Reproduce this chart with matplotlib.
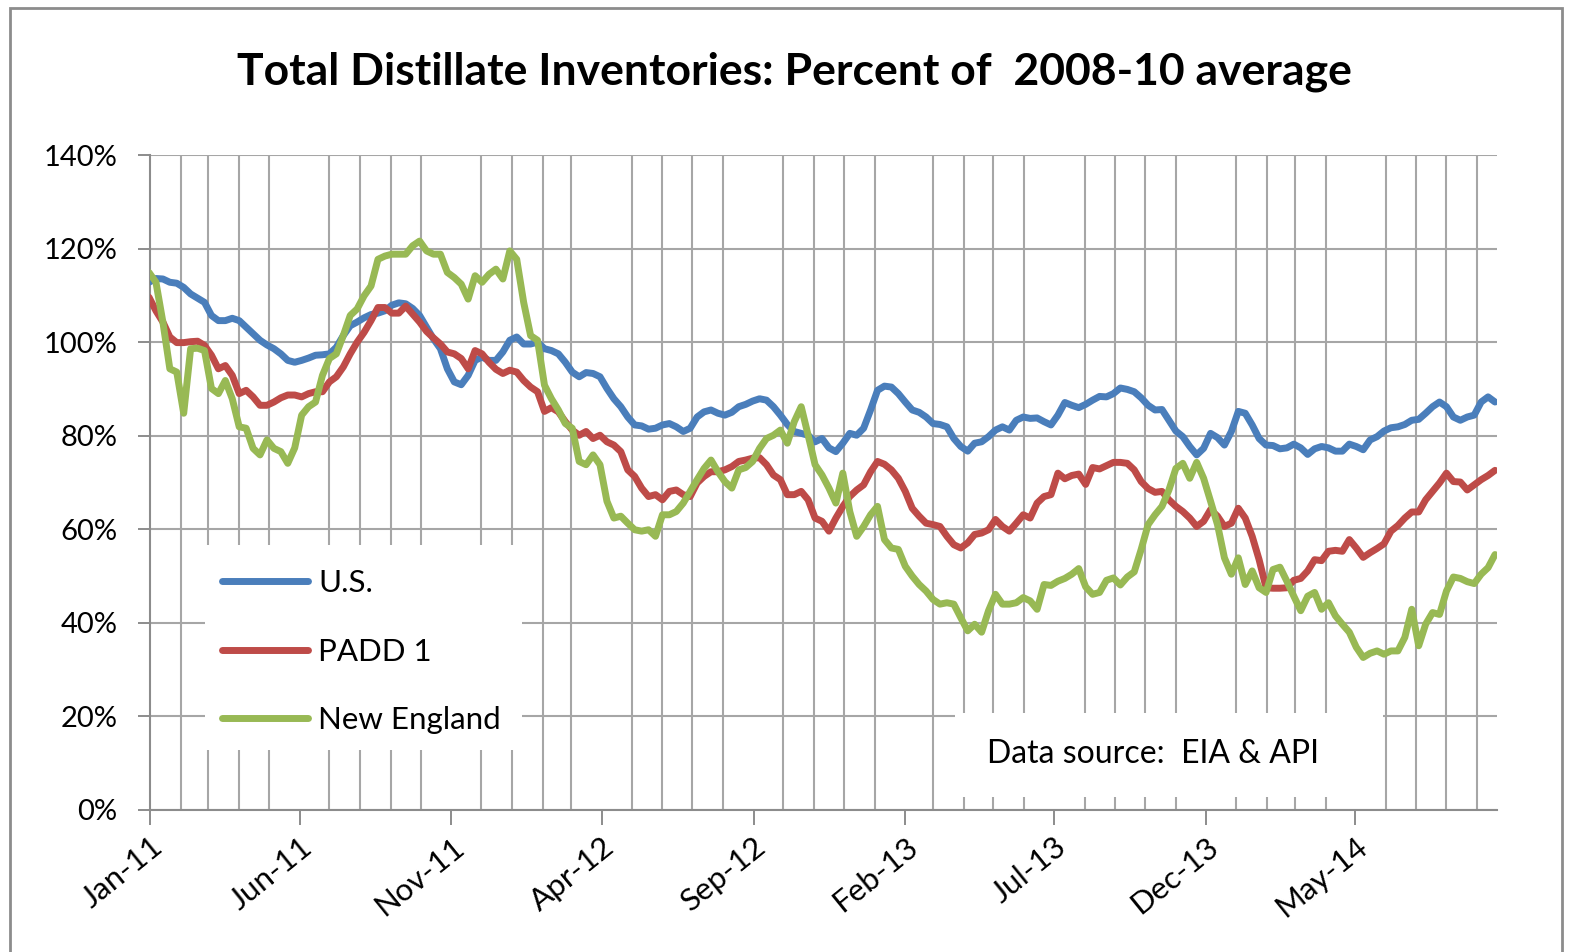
import pandas as pd
import matplotlib
matplotlib.use("Agg")
import matplotlib.pyplot as plt
import matplotlib.dates as mdates
from matplotlib.patches import Rectangle

plt.rcParams["font.family"] = ["Lato", "DejaVu Sans"]

# weekly readings (percent of 2008-10 average), first week ending 31 Dec 2010
week_start = "2010-12-31"

us = [
    112.8, 113.6, 113.5, 112.8, 112.6, 111.7, 110.3, 109.4, 108.5, 105.7, 104.6, 104.6, 105.1, 104.6, 103.2, 101.8,
    100.4, 99.4, 98.6, 97.5, 96.1, 95.7, 96.1, 96.6, 97.2, 97.3, 97.5, 98.9, 101.4, 103.5, 104.3, 105.2, 105.9,
    106.2, 106.7, 107.9, 108.4, 108.2, 107.2, 105.7, 103.2, 100.7, 98.6, 94.3, 91.5, 90.9, 92.9, 96.1, 96.8,
    96.1, 96.1, 97.9, 100.4, 101.1, 99.6, 99.6, 100.0, 98.6, 98.2, 97.5, 95.7, 93.6, 92.6, 93.5, 93.3,
    92.6, 90.1, 87.9, 86.2, 84.0, 82.3, 82.1, 81.4, 81.6, 82.3, 82.6, 81.9, 80.9, 81.6, 84.0, 85.1,
    85.5, 84.8, 84.4, 85.0, 86.2, 86.7, 87.4, 87.9, 87.6, 86.2, 84.4, 82.4, 80.9, 80.5, 80.1, 78.7,
    79.4, 77.4, 76.6, 78.4, 80.5, 80.1, 81.6, 85.5, 89.7, 90.6, 90.4, 89.0, 87.2, 85.5, 85.0, 84.0, 82.6,
    82.4, 81.9, 79.4, 77.7, 76.7, 78.4, 78.7, 79.8, 81.2, 81.9, 81.2, 83.3, 84.0, 83.7, 83.8, 83.0,
    82.3, 84.4, 87.1, 86.5, 86.0, 86.7, 87.6, 88.4, 88.3, 89.0, 90.2, 89.9, 89.4, 88.1, 86.5, 85.5,
    85.6, 83.3, 81.0, 79.8, 77.7, 75.9, 77.3, 80.5, 79.6, 78.0, 80.9, 85.2, 84.8, 82.3, 79.4, 78.0,
    77.9, 77.2, 77.4, 78.2, 77.4, 76.0, 77.2, 77.7, 77.4, 76.7, 76.7, 78.2, 77.7, 77.0, 79.1, 79.8, 81.0,
    81.7, 81.9, 82.4, 83.3, 83.5, 84.8, 86.2, 87.2, 86.2, 84.0, 83.3, 84.0, 84.4, 87.2, 88.3, 87.2,
]

padd1 = [
    109.6, 106.7, 104.3, 101.1, 99.9, 99.9, 100.1, 100.2, 99.3, 97.2, 94.3, 95.0, 92.9, 89.0, 89.7, 88.3,
    86.5, 86.5, 87.2, 88.1, 88.7, 88.7, 88.3, 89.0, 89.4, 89.4, 91.5, 92.6, 94.7, 97.5, 100.0, 102.1, 104.6,
    107.4, 107.4, 106.2, 106.2, 107.7, 106.0, 104.3, 102.3, 100.9, 99.6, 97.9, 97.5, 96.5, 94.3, 98.2, 97.5,
    95.7, 94.2, 93.3, 94.0, 93.6, 91.8, 90.4, 89.4, 85.2, 86.0, 85.1, 83.0, 81.2, 80.1, 80.9, 79.4,
    80.1, 78.7, 78.0, 76.6, 72.7, 71.3, 68.8, 67.0, 67.4, 66.3, 68.1, 68.4, 67.4, 67.0, 69.9, 71.3,
    72.3, 72.3, 72.7, 73.4, 74.5, 74.8, 75.2, 75.3, 73.8, 71.6, 70.6, 67.4, 67.4, 68.1, 66.3, 62.4,
    61.7, 59.6, 62.4, 64.9, 67.0, 68.4, 69.5, 72.3, 74.5, 73.9, 72.7, 70.9, 68.1, 64.5, 62.8, 61.3, 61.0,
    60.6, 58.5, 56.7, 56.0, 57.1, 58.9, 59.2, 59.9, 62.1, 60.6, 59.6, 61.3, 63.1, 62.4, 65.6, 67.0,
    67.4, 72.0, 70.8, 71.5, 71.8, 69.6, 73.2, 72.9, 73.6, 74.3, 74.3, 74.1, 72.7, 70.2, 68.7, 67.9,
    68.1, 66.3, 64.9, 63.8, 62.4, 60.6, 61.7, 64.2, 62.8, 60.6, 61.3, 64.5, 62.4, 58.5, 53.5, 47.5,
    47.4, 47.4, 47.5, 49.1, 49.5, 51.1, 53.5, 53.3, 55.3, 55.5, 55.3, 57.8, 56.0, 54.0, 55.0, 55.9, 56.9,
    59.6, 60.8, 62.4, 63.7, 63.7, 66.3, 68.1, 69.9, 72.0, 70.2, 70.1, 68.4, 69.5, 70.6, 71.5, 72.6,
]

new_england = [
    114.9, 112.8, 104.3, 94.3, 93.6, 84.8, 98.6, 98.7, 98.2, 90.1, 89.0, 91.8, 87.9, 81.9, 81.6, 77.3,
    75.9, 79.1, 77.3, 76.6, 74.1, 77.4, 84.4, 86.2, 87.2, 92.9, 96.5, 97.5, 101.4, 105.7, 107.1, 109.9, 112.0,
    117.7, 118.4, 118.8, 118.8, 118.8, 120.6, 121.6, 119.5, 118.8, 118.8, 114.9, 113.8, 112.4, 109.2, 114.2, 112.8,
    114.5, 115.6, 113.5, 119.5, 117.7, 108.5, 101.4, 100.4, 90.8, 87.9, 85.5, 82.6, 81.6, 74.5, 73.8, 75.9,
    73.8, 66.0, 62.4, 62.8, 61.3, 59.9, 59.6, 59.9, 58.5, 63.1, 63.1, 63.8, 65.6, 68.1, 70.6, 73.0,
    74.8, 72.3, 70.2, 68.8, 72.7, 73.2, 74.5, 77.3, 79.4, 80.1, 81.2, 78.4, 83.0, 86.2, 80.1, 73.8,
    71.6, 68.8, 65.6, 72.0, 63.8, 58.5, 60.6, 63.1, 64.9, 57.8, 56.0, 55.7, 52.1, 50.0, 48.2, 46.8, 45.0,
    44.0, 44.3, 44.0, 41.1, 38.3, 39.7, 38.0, 42.6, 46.1, 44.0, 44.0, 44.3, 45.4, 44.7, 42.9, 48.2,
    48.0, 48.9, 49.5, 50.4, 51.6, 47.7, 46.1, 46.5, 49.1, 49.6, 48.1, 49.8, 50.9, 55.7, 61.0, 63.1,
    64.9, 68.4, 73.0, 74.1, 70.9, 74.3, 70.9, 66.0, 61.0, 53.9, 50.4, 53.9, 48.2, 51.1, 47.5, 46.5,
    51.4, 51.9, 48.9, 45.7, 42.6, 45.7, 46.5, 42.9, 44.3, 41.5, 39.7, 38.0, 34.8, 32.6, 33.5, 34.0, 33.3,
    34.0, 34.0, 36.9, 42.9, 35.1, 39.7, 42.2, 41.8, 46.8, 49.8, 49.5, 48.8, 48.4, 50.4, 51.8, 54.6,
]

series_labels = ["U.S.", "PADD 1", "New England"]
series_colors = ["#4A7EBB", "#BE4B48", "#98B954"]
y_ticks = [0, 20, 40, 60, 80, 100, 120, 140]
title = "Total Distillate Inventories: Percent of  2008-10 average"
source_note = "Data source:  EIA & API"

dates = pd.date_range(week_start, periods=len(us), freq="7D")
label_months = pd.date_range("2011-01-01", "2014-05-01", freq="5MS")
grid_months = pd.date_range("2011-01-01", "2014-09-01", freq="MS")

grid_color = "#A6A6A6"
axis_color = "#8C8C8C"

fig = plt.figure(figsize=(15.77, 9.52), dpi=100)
ax = fig.add_axes([150 / 1577, 1 - 810 / 952, 1347 / 1577, 655 / 952])
ax.set_axisbelow(True)

lines = []
for vals, label, color in zip([us, padd1, new_england], series_labels, series_colors):
    ln, = ax.plot(dates, vals, color=color, lw=5.0, label=label, zorder=3,
                  solid_joinstyle="round", solid_capstyle="round")
    lines.append(ln)

ax.set_xlim(pd.Timestamp("2011-01-01"), pd.Timestamp("2014-09-21"))
ax.set_ylim(0, 140)

ax.set_yticks(y_ticks)
ax.set_yticklabels([f"{v}%" for v in y_ticks])
ax.set_xticks(label_months)
ax.set_xticks(grid_months, minor=True)
ax.xaxis.set_major_formatter(mdates.DateFormatter("%b-%y"))

ax.grid(which="minor", axis="x", color=grid_color, lw=1.5)
ax.grid(which="major", axis="y", color=grid_color, lw=1.5)

ax.tick_params(axis="x", which="minor", length=0)
ax.tick_params(axis="x", which="major", direction="out", length=11, width=1.4,
               color=axis_color, labelsize=22.5, pad=5)
ax.tick_params(axis="y", direction="out", length=8.5, width=1.4,
               color=axis_color, labelsize=21, pad=15)
plt.setp(ax.get_xticklabels(), rotation=39, ha="right", rotation_mode="anchor")

for side in ["top", "right"]:
    ax.spines[side].set_visible(False)
for side in ["left", "bottom"]:
    ax.spines[side].set_color(axis_color)
    ax.spines[side].set_linewidth(1.5)

# white boxes that hide the grid behind the legend and the source note
ax.add_patch(Rectangle((55 / 1347, 60 / 655), 317 / 1347, 205 / 655, transform=ax.transAxes,
                       facecolor="white", edgecolor="none", zorder=1))
ax.add_patch(Rectangle((805 / 1347, 13 / 655), 428 / 1347, 84 / 655, transform=ax.transAxes,
                       facecolor="white", edgecolor="none", zorder=1))

ax.legend(handles=lines, loc="upper left", bbox_to_anchor=(222 / 1577, 1 - 569 / 952),
          bbox_transform=fig.transFigure, frameon=False, fontsize=22.5, handlelength=2.75,
          handletextpad=0.32, labelspacing=1.30, borderpad=0, borderaxespad=0)

ax.text(837 / 1347, 56 / 655, source_note, transform=ax.transAxes, fontsize=23,
        ha="left", va="center", zorder=4)

fig.text(0.504, 1 - 72 / 952, title, ha="center", va="center", fontsize=32, fontweight="bold")

fig.add_artist(Rectangle((10 / 1577, -0.02), 1552 / 1577, 1 - 8 / 952 + 0.02,
                         transform=fig.transFigure, fill=False, edgecolor=axis_color, lw=2))

fig.savefig("out.png", dpi=100)
